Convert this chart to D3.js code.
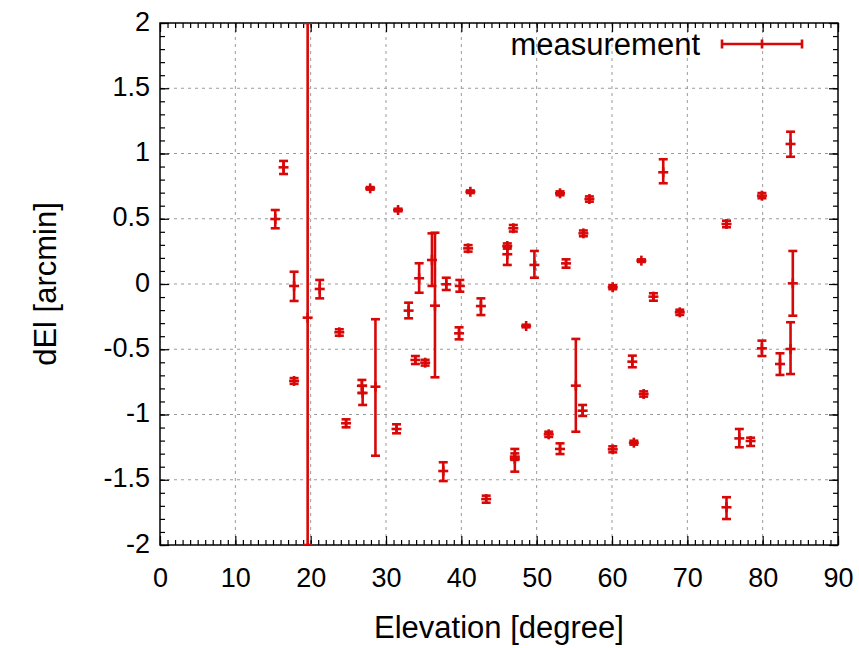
<!DOCTYPE html>
<html lang="en">
<head>
  <meta charset="UTF-8">
  <title>dEl vs Elevation</title>
  <script src="https://cdn.jsdelivr.net/npm/d3@7"></script>
  <style>
    body { margin: 0; background: #fff; }
    svg text { font-family: "Liberation Sans", Arial, sans-serif; fill: #000; }
    .axis path { display: none; }
    .axis line { stroke: #000; stroke-width: 1.2px; }
    .axis text { font-size: 27px; }
    .grid line { stroke: #9a9a9a; stroke-width: 1px; stroke-dasharray: 3, 4; }
    .bar line { stroke: #d80808; stroke-width: 2.6px; }
  </style>
</head>
<body>
  <script>
    // elevation [deg], dEl [arcmin], low / high ends of the error bar
    const elevation = [15.3, 16.4, 17.8, 17.8, 19.6, 21.2, 23.8, 24.7, 26.8, 26.9,
      27.9, 28.6, 31.4, 31.6, 33.0, 33.9, 34.4, 35.2, 36.1, 36.5,
      37.6, 38.0, 39.7, 39.8, 40.9, 41.2, 42.6, 43.3, 46.1, 46.1,
      46.9, 47.1, 47.1, 48.6, 49.7, 51.6, 53.1, 53.1, 53.9, 55.2,
      56.1, 56.2, 57.0, 60.1, 60.1, 62.7, 62.9, 63.9, 64.2, 65.5,
      66.8, 69.0, 75.2, 75.2, 76.9, 78.4, 79.9, 79.9, 82.3, 83.7,
      83.7, 84.0]
    const dEl = [0.498, 0.894, -0.015, -0.743, -0.258, -0.038, -0.370, -1.067, -0.780, -0.835,
      0.733, -0.787, -1.111, 0.567, -0.204, -0.582, 0.044, -0.603, 0.184, -0.166,
      -1.433, -0.002, -0.378, -0.015, 0.273, 0.707, -0.169, -1.648, 0.291, 0.228,
      0.427, -1.323, -1.341, -0.322, 0.146, -1.152, 0.695, -1.264, 0.158, -0.779,
      -0.971, 0.388, 0.651, -0.025, -1.267, -0.595, -1.216, 0.179, -0.843, -0.097,
      0.856, -0.217, 0.460, -1.711, -1.183, -1.203, 0.677, -0.493, -0.613, -0.498,
      1.073, 0.005]
    const dElLow = [0.427, 0.843, -0.130, -0.765, -2.0, -0.110, -0.396, -1.098, -0.835, -0.927,
      0.723, -1.316, -1.144, 0.557, -0.263, -0.613, -0.067, -0.625, -0.015, -0.715,
      -1.510, -0.046, -0.424, -0.059, 0.248, 0.697, -0.238, -1.676, 0.271, 0.146,
      0.402, -1.348, -1.438, -0.332, 0.048, -1.172, 0.680, -1.303, 0.125, -1.132,
      -1.011, 0.366, 0.631, -0.040, -1.290, -0.638, -1.231, 0.169, -0.863, -0.128,
      0.772, -0.237, 0.435, -1.801, -1.251, -1.241, 0.657, -0.552, -0.697, -0.690,
      0.975, -0.243]
    const dElHigh = [0.567, 0.943, 0.094, -0.721, 2.0, 0.031, -0.347, -1.037, -0.735, -0.780,
      0.743, -0.270, -1.075, 0.577, -0.143, -0.552, 0.159, -0.581, 0.388, 0.393,
      -1.366, 0.048, -0.332, 0.031, 0.298, 0.717, -0.110, -1.622, 0.311, 0.286,
      0.452, -1.298, -1.264, -0.312, 0.253, -1.132, 0.710, -1.221, 0.189, -0.421,
      -0.927, 0.410, 0.671, -0.010, -1.244, -0.549, -1.201, 0.189, -0.823, -0.071,
      0.956, -0.197, 0.485, -1.634, -1.111, -1.178, 0.697, -0.434, -0.531, -0.293,
      1.167, 0.253]
    const xTicks = [0, 10, 20, 30, 40, 50, 60, 70, 80, 90]
    const yTicks = [-2, -1.5, -1, -0.5, 0, 0.5, 1, 1.5, 2]

    const data = elevation.map((e, i) => ({ x: e, y: dEl[i], lo: dElLow[i], hi: dElHigh[i] }))

    const width = 859
    const height = 648
    const margin = { left: 160, right: 21, top: 23, bottom: 103 }
    const w = width - margin.left - margin.right
    const h = height - margin.top - margin.bottom

    const svg = d3.select('body').append('svg')
      .attr('width', width)
      .attr('height', height)

    const xScale = d3.scaleLinear().domain([0, 90]).range([0, w])
    const yScale = d3.scaleLinear().domain([-2, 2]).range([h, 0])

    const g = svg.append('g')
      .attr('transform', `translate(${margin.left},${margin.top})`)

    svg.append('defs').append('clipPath').attr('id', 'clip')
      .append('rect').attr('width', w).attr('height', h)

    // grid
    g.append('g').attr('class', 'grid')
      .selectAll('line').data(xTicks.slice(1, -1)).enter().append('line')
      .attr('x1', d => xScale(d)).attr('x2', d => xScale(d))
      .attr('y1', 0).attr('y2', h)
    g.append('g').attr('class', 'grid')
      .selectAll('line').data(yTicks.slice(1, -1)).enter().append('line')
      .attr('x1', 0).attr('x2', w)
      .attr('y1', d => yScale(d)).attr('y2', d => yScale(d))

    // minor ticks (every 1 deg, every 0.1 arcmin)
    const xMinor = d3.range(0, 91, 1)
    const yMinor = d3.range(-20, 21).map(d => d / 10)
    g.append('g').attr('class', 'axis').attr('transform', `translate(0,${h})`)
      .call(d3.axisBottom(xScale).tickValues(xMinor).tickSize(-5).tickFormat(''))
    g.append('g').attr('class', 'axis')
      .call(d3.axisTop(xScale).tickValues(xMinor).tickSize(-5).tickFormat(''))
    g.append('g').attr('class', 'axis')
      .call(d3.axisLeft(yScale).tickValues(yMinor).tickSize(-5).tickFormat(''))
    g.append('g').attr('class', 'axis').attr('transform', `translate(${w},0)`)
      .call(d3.axisRight(yScale).tickValues(yMinor).tickSize(-5).tickFormat(''))

    // major ticks + labels
    g.append('g').attr('class', 'axis').attr('transform', `translate(0,${h})`)
      .call(d3.axisBottom(xScale).tickValues(xTicks).tickSize(-9).tickPadding(23).tickFormat(d3.format('d')))
    g.append('g').attr('class', 'axis')
      .call(d3.axisTop(xScale).tickValues(xTicks).tickSize(-9).tickFormat(''))
    g.append('g').attr('class', 'axis')
      .call(d3.axisLeft(yScale).tickValues(yTicks).tickSize(-9).tickPadding(10).tickFormat(d => String(d)))
      .selectAll('text').attr('dy', '0.26em')
    g.append('g').attr('class', 'axis').attr('transform', `translate(${w},0)`)
      .call(d3.axisRight(yScale).tickValues(yTicks).tickSize(-9).tickFormat(''))

    // border
    g.append('rect')
      .attr('width', w).attr('height', h)
      .attr('fill', 'none').attr('stroke', '#000').attr('stroke-width', 1.5)

    // error bars
    const cap = 4.5
    const bars = g.append('g').attr('clip-path', 'url(#clip)')
      .selectAll('.bar').data(data).enter().append('g').attr('class', 'bar')
    bars.append('line')
      .attr('x1', d => xScale(d.x)).attr('x2', d => xScale(d.x))
      .attr('y1', d => yScale(d.lo)).attr('y2', d => yScale(d.hi))
    bars.append('line')
      .attr('x1', d => xScale(d.x) - cap).attr('x2', d => xScale(d.x) + cap)
      .attr('y1', d => yScale(d.lo)).attr('y2', d => yScale(d.lo))
    bars.append('line')
      .attr('x1', d => xScale(d.x) - cap).attr('x2', d => xScale(d.x) + cap)
      .attr('y1', d => yScale(d.hi)).attr('y2', d => yScale(d.hi))
    // point marker (+)
    bars.append('line')
      .attr('x1', d => xScale(d.x) - 5).attr('x2', d => xScale(d.x) + 5)
      .attr('y1', d => yScale(d.y)).attr('y2', d => yScale(d.y))
    bars.append('line')
      .attr('x1', d => xScale(d.x)).attr('x2', d => xScale(d.x))
      .attr('y1', d => yScale(d.y) - 5).attr('y2', d => yScale(d.y) + 5)

    // legend
    const key = g.append('g').attr('class', 'bar').attr('transform', 'translate(0,21)')
    key.append('text')
      .attr('x', 540).attr('y', 11)
      .attr('text-anchor', 'end')
      .style('font-size', '31px')
      .text('measurement')
    key.append('line').attr('x1', 562).attr('x2', 642).attr('y1', 0).attr('y2', 0)
    ;[562, 602, 642].forEach(x => {
      key.append('line').attr('x1', x).attr('x2', x).attr('y1', -4.5).attr('y2', 4.5)
    })

    // axis titles
    svg.append('text')
      .attr('x', margin.left + w / 2).attr('y', 638)
      .attr('text-anchor', 'middle')
      .style('font-size', '31px')
      .text('Elevation [degree]')
    svg.append('text')
      .attr('transform', `translate(56,${margin.top + h / 2}) rotate(-90)`)
      .attr('text-anchor', 'middle')
      .style('font-size', '31px')
      .text('dEl [arcmin]')
  </script>
</body>
</html>
